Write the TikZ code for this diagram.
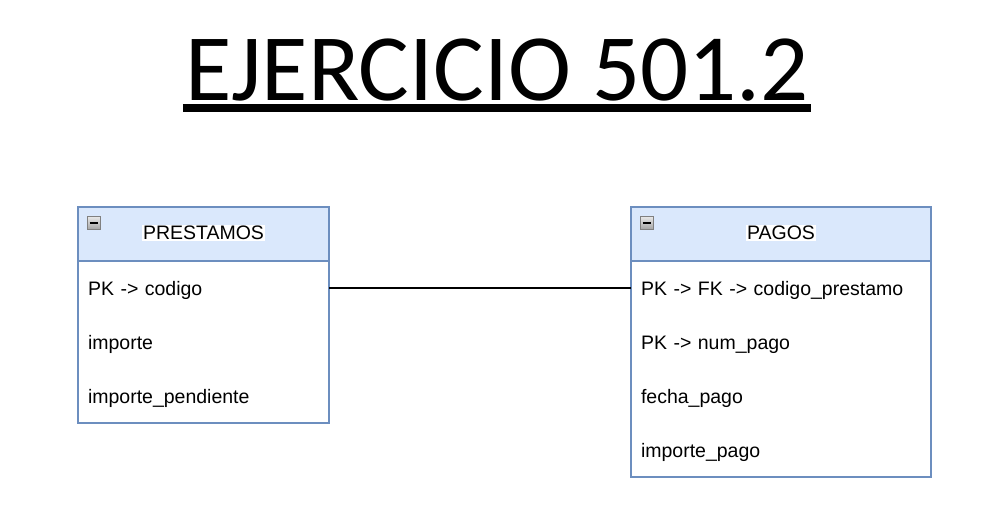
\documentclass[tikz,border=0pt]{standalone}
\usepackage{fontspec}
\setmainfont{Liberation Sans}
\newfontfamily\titlefont{Carlito}
\usetikzlibrary{positioning}
\definecolor{headfill}{HTML}{DAE8FC}
\definecolor{headline}{HTML}{6C8EBF}

\begin{document}
\begin{tikzpicture}[x=1pt, y=-1pt,
  tablehead/.style={draw=headline, fill=headfill, line width=1.5pt, minimum height=54pt, inner sep=0pt, outer sep=0pt, anchor=north west},
  tablerow/.style={minimum height=54pt, inner xsep=10pt, inner ysep=0pt, outer sep=0pt, text height=14pt, text depth=0pt, align=left, anchor=north west, font=\fontsize{19.5}{22}\selectfont},
  headtext/.style={fill=white, inner sep=1pt, font=\fontsize{19.5}{22}\selectfont},
  minusbox/.style={draw=black!50, top color=black!8, bottom color=black!35, minimum size=13pt, inner sep=0pt, outer sep=0pt}]
\useasboundingbox (0,0) rectangle (1008,525);

% title
\node [inner xsep=2pt, inner ysep=0pt, anchor=base, font=\titlefont\fontsize{95}{95}\selectfont] (title) at (497,100) {EJERCICIO 501.2};
\draw [line width=7.5pt] ([yshift=-8pt]title.base west) -- ([yshift=-8pt]title.base east);

% PRESTAMOS
\node [tablehead, minimum width=251pt] (prestamos) at (78,207) {};
\foreach \f [count=\i] in {PK -> codigo, importe, importe\_pendiente} {
  \node [tablerow, text width=231pt] (pres-\i) at (78,{261+54*(\i-1)}) {\f};
}
\draw [headline, line width=1.5pt] (prestamos.north west) rectangle (pres-3.south east);
\node [headtext] (prestamos-name) at ([yshift=1pt]prestamos.center) {PRESTAMOS};
\node [minusbox] (prestamos-toggle) at ([xshift=15.5pt,yshift=-15.5pt]prestamos.north west) {};
\draw [line width=2pt] ([xshift=2.5pt]prestamos-toggle.west) -- ([xshift=-2.5pt]prestamos-toggle.east);

% PAGOS
\node [tablehead, minimum width=300pt, right=302pt of prestamos.north east, anchor=north west] (pagos) {};
\foreach \f [count=\i] in {PK -> FK -> codigo\_prestamo, PK -> num\_pago, fecha\_pago, importe\_pago} {
  \node [tablerow, text width=280pt] (pag-\i) at (631,{261+54*(\i-1)}) {\f};
}
\draw [headline, line width=1.5pt] (pagos.north west) rectangle (pag-4.south east);
\node [headtext] (pagos-name) at ([yshift=1pt]pagos.center) {PAGOS};
\node [minusbox] (pagos-toggle) at ([xshift=15.5pt,yshift=-15.5pt]pagos.north west) {};
\draw [line width=2pt] ([xshift=2.5pt]pagos-toggle.west) -- ([xshift=-2.5pt]pagos-toggle.east);

% relation
\draw [line width=1.5pt] (pres-1.east) -- (pag-1.west);
\end{tikzpicture}
\end{document}
